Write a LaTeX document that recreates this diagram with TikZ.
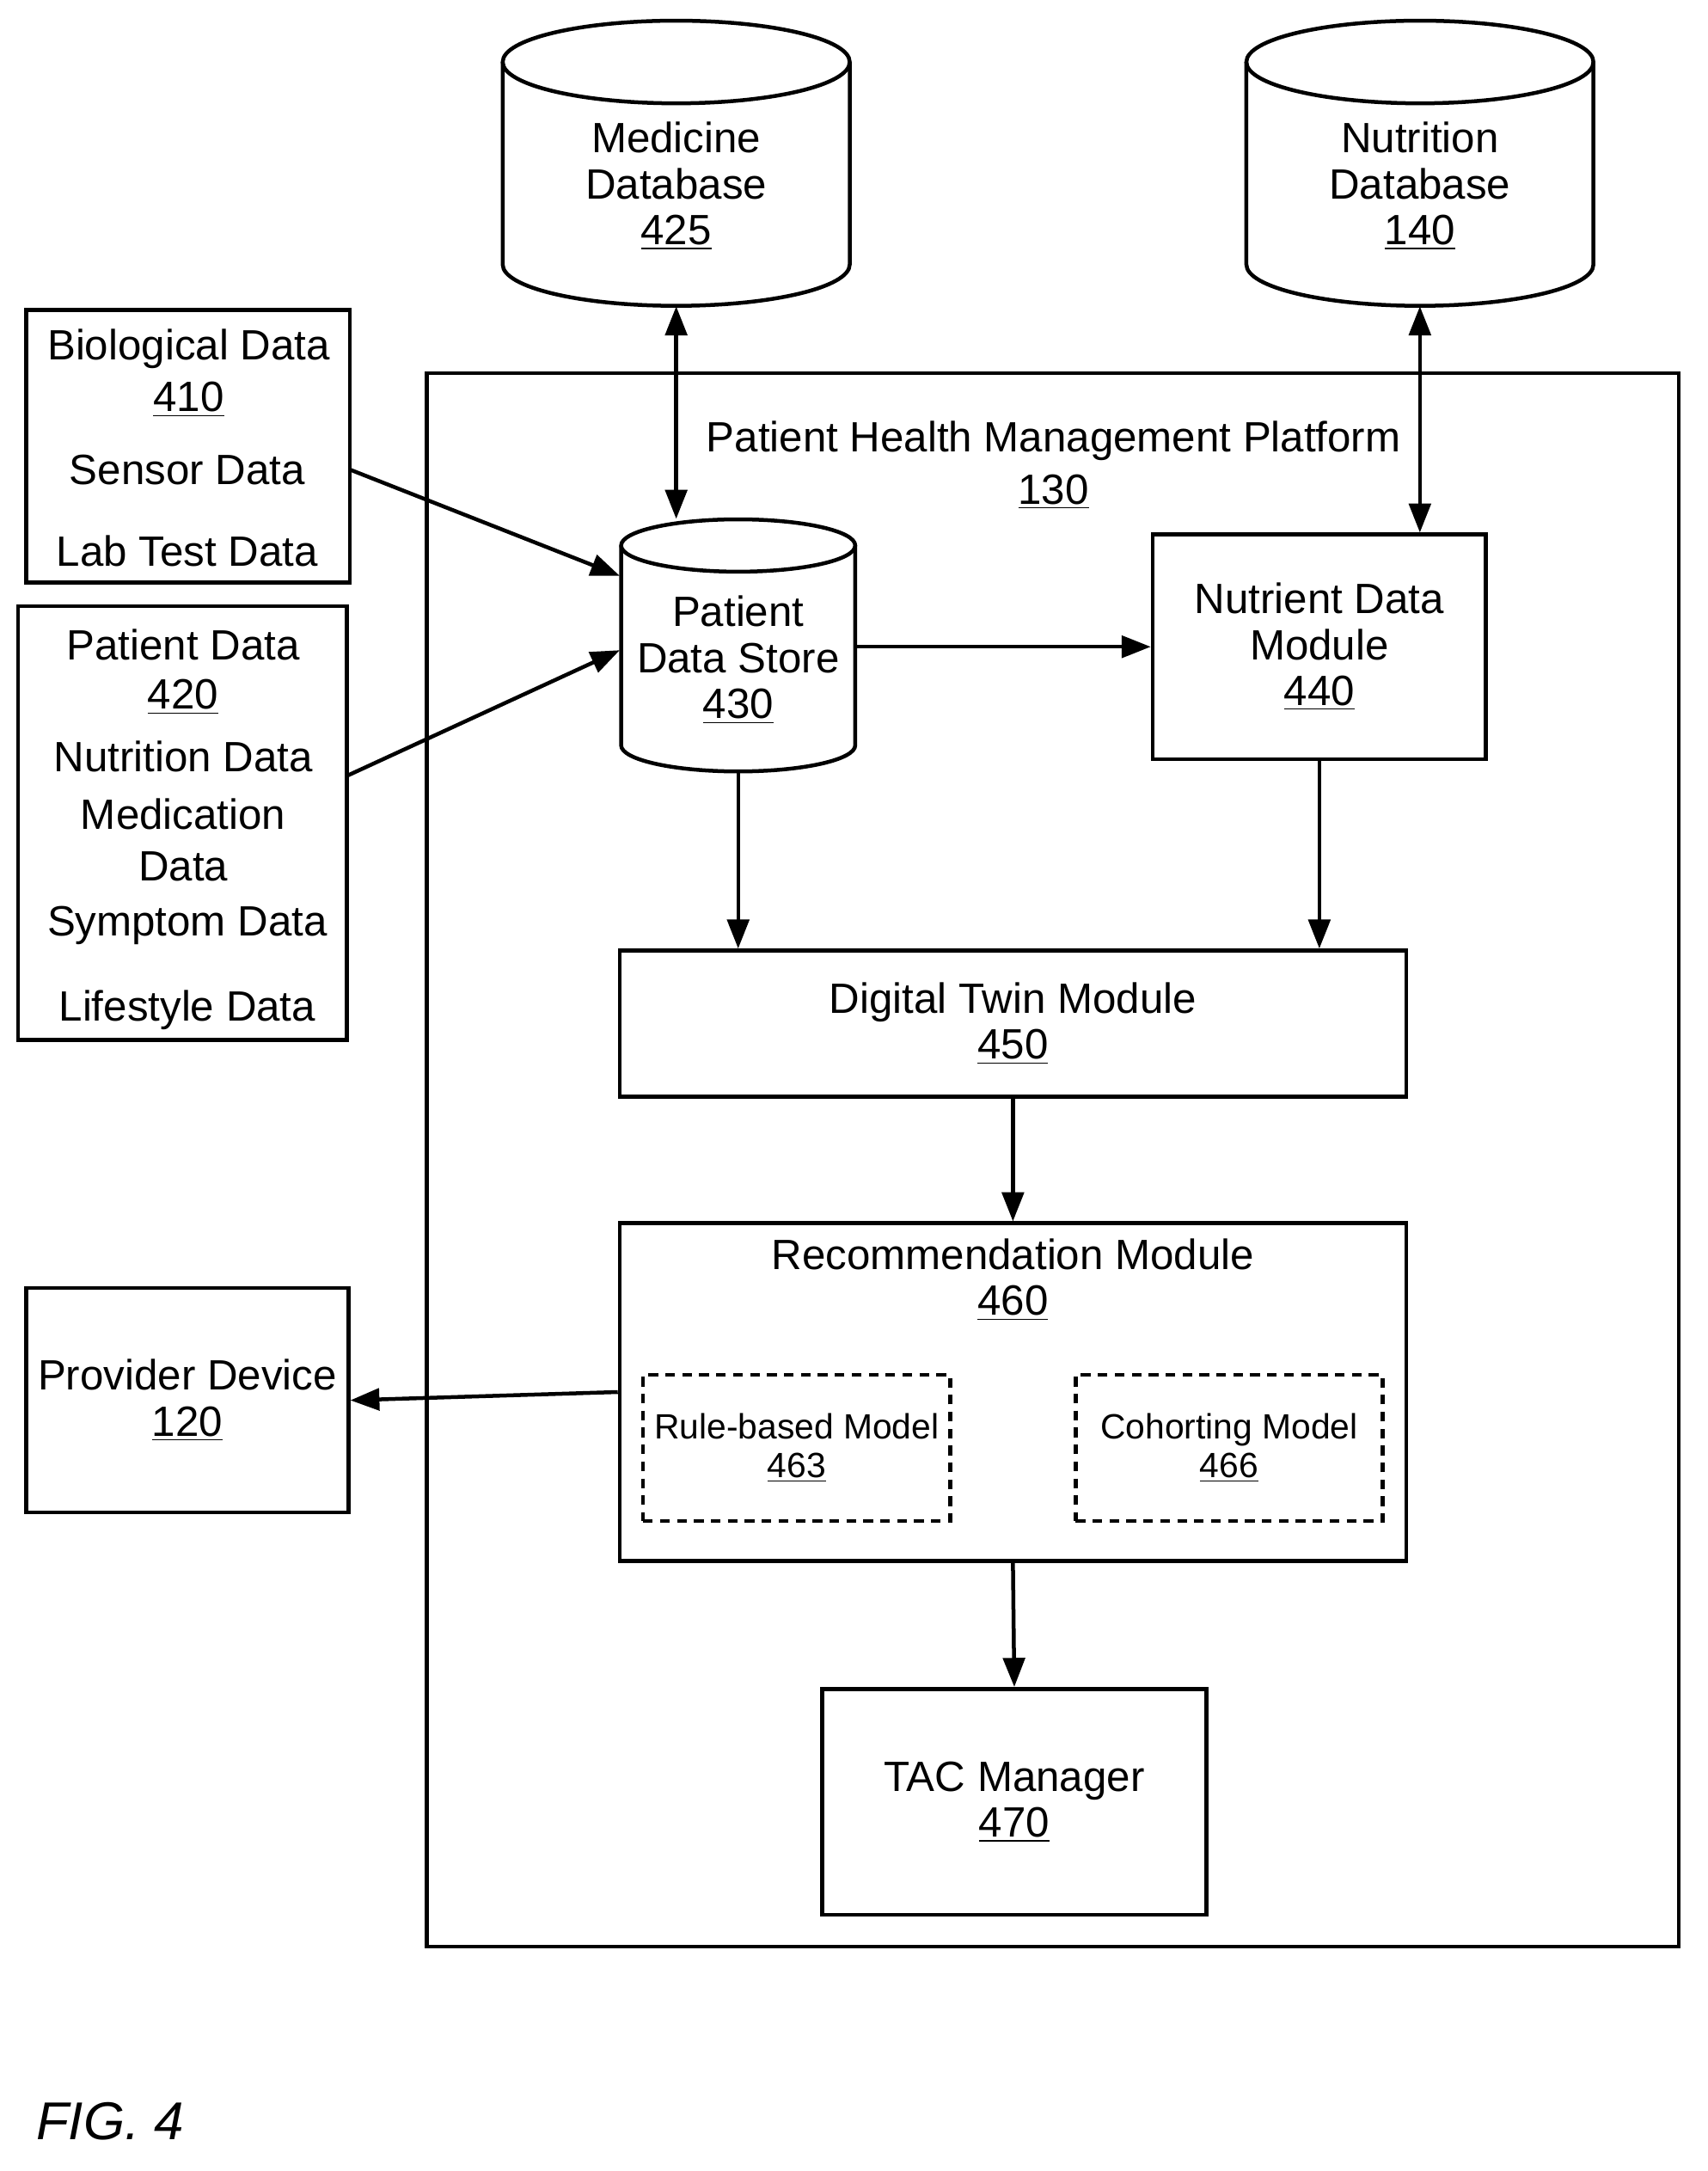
\documentclass[tikz,border=0pt]{standalone}
\usepackage{fontspec}
\setmainfont{Liberation Sans}
\usetikzlibrary{arrows.meta}
\tikzset{
  box/.style={draw,line width=1.6pt,minimum width=#1},
  txt/.style={font=\fontsize{17.5}{21}\selectfont,inner sep=0pt},
  small/.style={font=\fontsize{14.5}{17}\selectfont,inner sep=0pt},
  flow/.style={line width=1.6pt,-{Triangle[length=12pt,width=9pt]}},
  both/.style={line width=1.6pt,{Triangle[length=12pt,width=9pt]}-{Triangle[length=12pt,width=9pt]}}
}
% cylinder: name, centre x, top y, bottom y, x radius, y radius
\newcommand{\dbcyl}[6]{%
  \draw[line width=1.6pt] (#2,#3+#6) ellipse [x radius=#5,y radius=#6];
  \draw[line width=1.6pt] (#2-#5,#3+#6) -- (#2-#5,#4-#6)
    arc [start angle=180,end angle=0,x radius=#5,y radius=#6] -- (#2+#5,#3+#6);
  \node[inner sep=0pt,minimum width=2*#5*0.02cm,minimum height=(#4-#3)*0.02cm] (#1) at (#2,{(#3+#4)/2}) {};
}
\begin{document}
\begin{tikzpicture}[x=0.02cm,y=-0.02cm]
\useasboundingbox (0,0) rectangle (1240,1576);

% databases
\dbcyl{med}{491}{15}{222}{126}{30}
\node[txt,align=center] at (491,135) {Medicine\\[-2pt]Database\\[-2pt]\underline{425}};
\dbcyl{nut}{1031}{15}{222}{126}{30}
\node[txt,align=center] at (1031,135) {Nutrition\\[-2pt]Database\\[-2pt]\underline{140}};

% platform
\draw[line width=1.6pt] (310,271) rectangle (1219,1413);
\node[txt] at (765,320) {Patient Health Management Platform};
\node[txt] at (765,357) {\underline{130}};

% inputs
\draw[line width=1.6pt] (19,225) rectangle (254,423);
\node[inner sep=0pt,minimum width=235*0.02cm,minimum height=198*0.02cm] (bio) at (136.5,324) {};
\node[txt] at (137,253) {Biological Data};
\node[txt] at (137,290) {\underline{410}};
\node[txt] (sensor) at (136,341) {Sensor Data};
\node[txt] at (136,400) {Lab Test Data};

\draw[line width=1.6pt] (13,440) rectangle (252,755);
\node[inner sep=0pt,minimum width=239*0.02cm,minimum height=315*0.02cm] (pd) at (132.5,597.5) {};
\node[txt] at (133,468) {Patient Data};
\node[txt] at (133,506) {\underline{420}};
\node[txt] (nutd) at (133,549) {Nutrition Data};
\node[txt] at (133,591) {Medication};
\node[txt] at (133,629) {Data};
\node[txt] at (136,672) {Symptom Data};
\node[txt] at (136,733) {Lifestyle Data};

% patient data store
\dbcyl{pds}{536}{377}{560}{85}{19}
\node[txt,align=center] at (536,479) {Patient\\[-2pt]Data Store\\[-2pt]\underline{430}};

% modules
\node[box=242*0.02cm,minimum height=163*0.02cm,txt,align=center] (ndm) at (958,469.5) {Nutrient Data\\[-2pt]Module\\[-2pt]\underline{440}};
\node[box=571*0.02cm,minimum height=106*0.02cm,txt,align=center] (dtm) at (735.5,743) {Digital Twin Module\\[-2pt]\underline{450}};
\node[box=571*0.02cm,minimum height=245*0.02cm] (rec) at (735.5,1010.5) {};
\node[txt,align=center] at (735.5,929) {Recommendation Module\\[-2pt]\underline{460}};
\node[box=223*0.02cm,minimum height=106*0.02cm,dashed,dash pattern=on 4pt off 3pt,small,align=center] (rule) at (578.5,1051) {Rule-based Model\\[-1pt]\underline{463}};
\node[box=223*0.02cm,minimum height=106*0.02cm,dashed,dash pattern=on 4pt off 3pt,small,align=center] (coh) at (892.5,1051) {Cohorting Model\\[-1pt]\underline{466}};
\node[box=234*0.02cm,minimum height=163*0.02cm,txt,align=center] (prov) at (136,1016.5) {Provider Device\\[-2pt]\underline{120}};
\node[box=279*0.02cm,minimum height=164*0.02cm,txt,align=center] (tac) at (736.5,1308) {TAC Manager\\[-2pt]\underline{470}};

% connectors
\draw[both] (med.south) -- (pds.north -| med.south);
\draw[both] (nut.south) -- (ndm.north -| nut.south);
\draw[flow] (bio.east |- sensor) -- (450,418);
\draw[flow] (pd.east |- 0,563) -- (450,472);
\draw[flow] (pds.east |- ndm.west) -- (ndm.west);
\draw[flow] (pds.south) -- (dtm.north -| pds.south);
\draw[flow] (ndm.south) -- (dtm.north -| ndm.south);
\draw[flow] (dtm.south) -- (rec.north);
\draw[flow] (rec.south) -- (tac.north);
\draw[flow] (rec.west) -- (prov.east);

\node[font=\itshape\fontsize{22}{26}\selectfont,inner sep=0pt] (fig) at (80,1540) {FIG. 4};
\end{tikzpicture}
\end{document}
